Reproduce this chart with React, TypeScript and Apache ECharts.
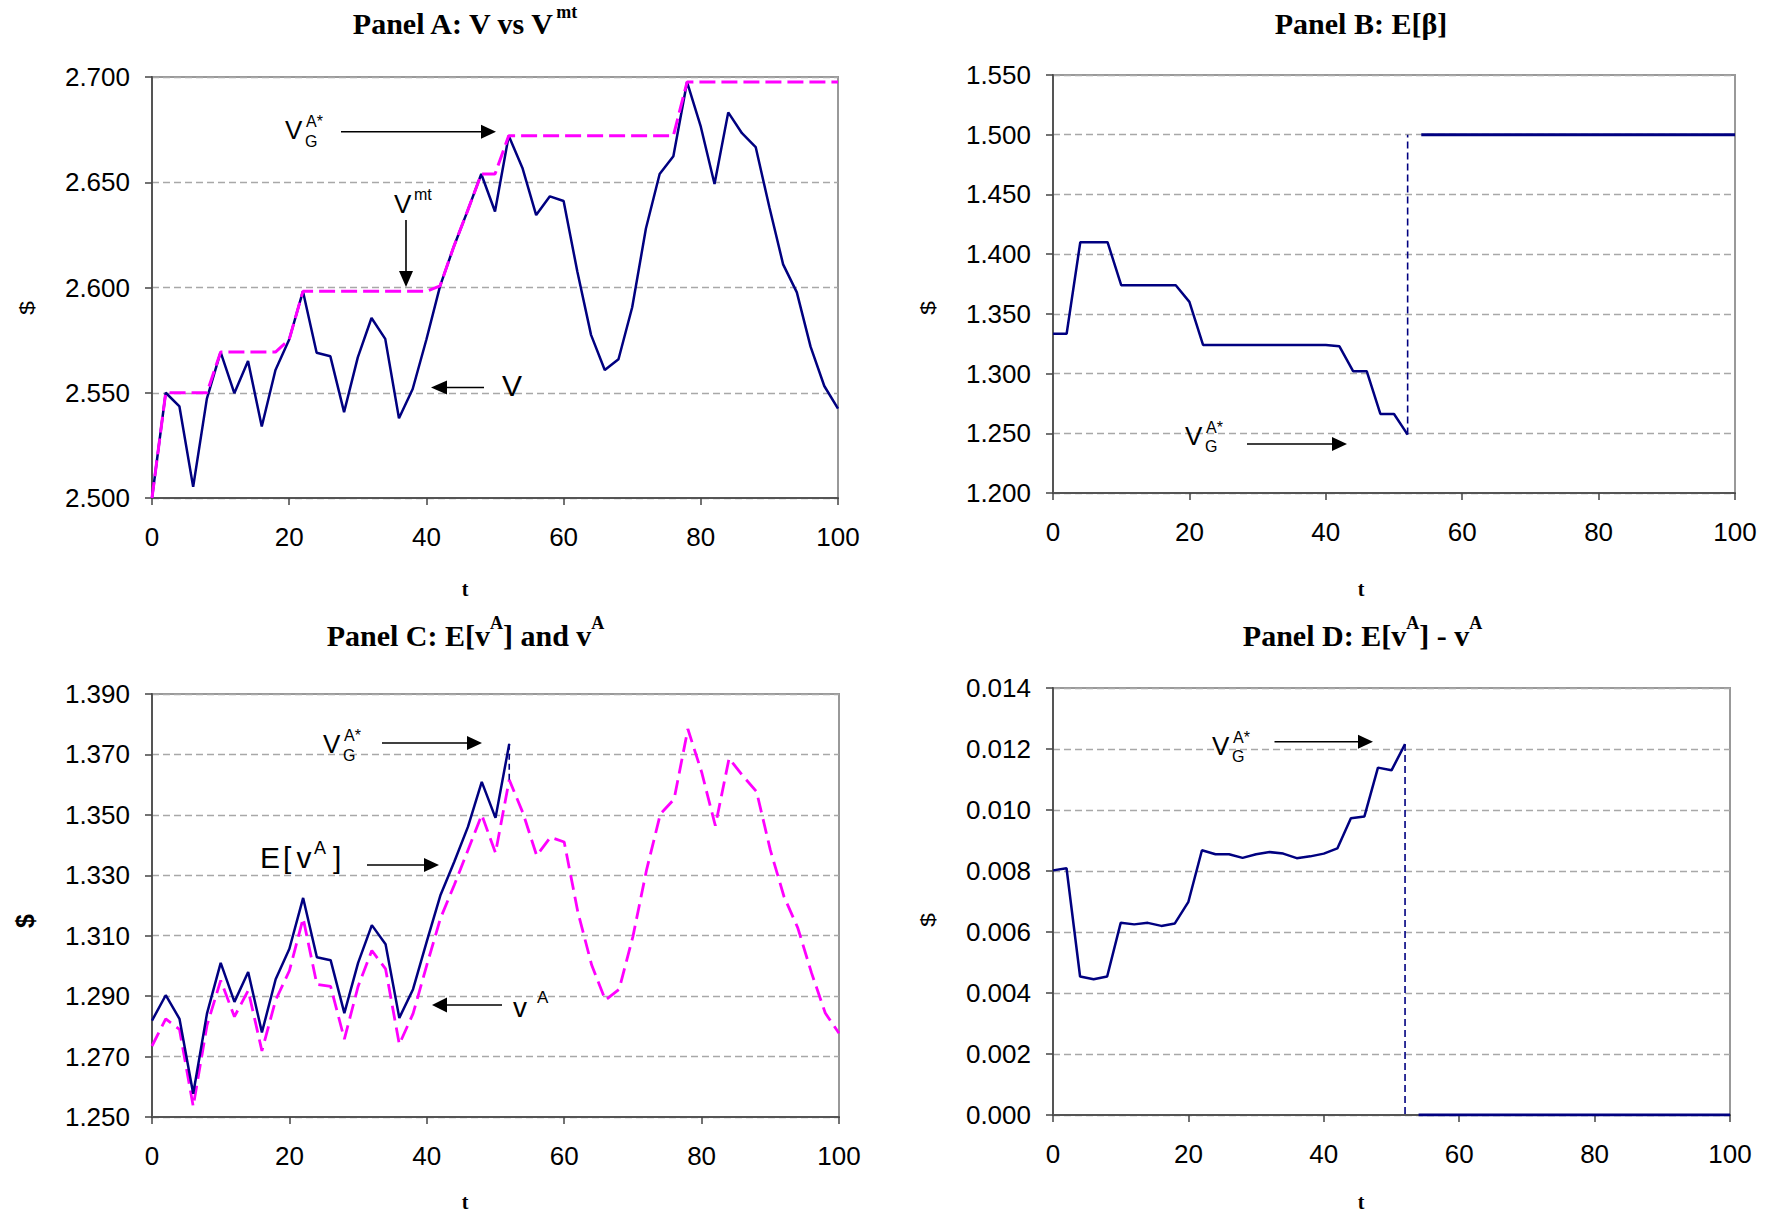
import React, { useEffect, useRef } from "react";
import * as echarts from "echarts";

// ---------- data ----------
const T = [0, 2, 4, 6, 8, 10, 12, 14, 16, 18, 20, 22, 24, 26, 28, 30, 32, 34, 36, 38, 40, 42, 44, 46, 48, 50, 52, 54, 56, 58, 60, 62, 64, 66, 68, 70, 72, 74, 76, 78, 80, 82, 84, 86, 88, 90, 92, 94, 96, 98, 100];
const T_PRE = [0, 2, 4, 6, 8, 10, 12, 14, 16, 18, 20, 22, 24, 26, 28, 30, 32, 34, 36, 38, 40, 42, 44, 46, 48, 50, 52];
const T_POST = [54, 56, 58, 60, 62, 64, 66, 68, 70, 72, 74, 76, 78, 80, 82, 84, 86, 88, 90, 92, 94, 96, 98, 100];
const X_TICKS = { min: 0, max: 100, interval: 20 };

// Panel A
const V_A = [2.500, 2.550, 2.5435, 2.5053, 2.5472, 2.5693, 2.5498, 2.5651, 2.534, 2.5608, 2.5753, 2.5982, 2.569, 2.5673, 2.5408, 2.5668, 2.5855, 2.5756, 2.5379, 2.5518, 2.5753, 2.6008, 2.6195, 2.6364, 2.6539, 2.6361, 2.6721, 2.6568, 2.6344, 2.6433, 2.6411, 2.6076, 2.5775, 2.5608, 2.5659, 2.5906, 2.628, 2.6539, 2.6624, 2.6976, 2.6764, 2.6492, 2.6832, 2.6733, 2.6667, 2.6381, 2.611, 2.5977, 2.5719, 2.5532, 2.5425];
const V_MT = [2.500, 2.550, 2.550, 2.550, 2.550, 2.5693, 2.5693, 2.5693, 2.5693, 2.5693, 2.5753, 2.5982, 2.5982, 2.5982, 2.5982, 2.5982, 2.5982, 2.5982, 2.5982, 2.5982, 2.5982, 2.6008, 2.6195, 2.6364, 2.6539, 2.6539, 2.6721, 2.6721, 2.6721, 2.6721, 2.6721, 2.6721, 2.6721, 2.6721, 2.6721, 2.6721, 2.6721, 2.6721, 2.6721, 2.6976, 2.6976, 2.6976, 2.6976, 2.6976, 2.6976, 2.6976, 2.6976, 2.6976, 2.6976, 2.6976, 2.6976];
const A_Y = { min: 2.5, max: 2.7, interval: 0.05 };

// Panel B
const BETA_PRE = [1.3333, 1.3333, 1.410, 1.410, 1.410, 1.374, 1.374, 1.374, 1.374, 1.374, 1.360, 1.324, 1.324, 1.324, 1.324, 1.324, 1.324, 1.324, 1.324, 1.324, 1.324, 1.3228, 1.302, 1.302, 1.2662, 1.2662, 1.2489];
const BETA_POST = [1.5, 1.5, 1.5, 1.5, 1.5, 1.5, 1.5, 1.5, 1.5, 1.5, 1.5, 1.5, 1.5, 1.5, 1.5, 1.5, 1.5, 1.5, 1.5, 1.5, 1.5, 1.5, 1.5, 1.5];
const BETA_JUMP = [[52, 1.2489], [52, 1.5]];
const B_Y = { min: 1.2, max: 1.55, interval: 0.05 };

// Panel C
const E_VA = [1.2819, 1.2903, 1.2825, 1.2577, 1.2842, 1.3010, 1.2881, 1.2980, 1.2780, 1.2956, 1.3057, 1.3225, 1.3029, 1.3019, 1.2844, 1.3010, 1.3135, 1.3072, 1.2828, 1.2923, 1.3081, 1.3235, 1.3345, 1.3461, 1.3609, 1.3490, 1.3735];
const VA = [1.2735, 1.2825, 1.2790, 1.2535, 1.2803, 1.2952, 1.2832, 1.2919, 1.2719, 1.2887, 1.2984, 1.3158, 1.2939, 1.2932, 1.2758, 1.2932, 1.3051, 1.2990, 1.2741, 1.2842, 1.3003, 1.3158, 1.3268, 1.3384, 1.3500, 1.3374, 1.3616, 1.3506, 1.3365, 1.3426, 1.3410, 1.3177, 1.3003, 1.2887, 1.2923, 1.3097, 1.3319, 1.3503, 1.3552, 1.3784, 1.3642, 1.3464, 1.3687, 1.3629, 1.3577, 1.3384, 1.3229, 1.3126, 1.2977, 1.2844, 1.2777];
const C_JUMP = [[52, 1.3735], [52, 1.3616]];
const C_Y = { min: 1.25, max: 1.39, interval: 0.02 };

// Panel D
const DIFF_PRE = [0.00802, 0.00809, 0.00454, 0.00445, 0.00454, 0.0063, 0.00625, 0.0063, 0.0062, 0.00628, 0.00699, 0.00868, 0.00855, 0.00855, 0.00843, 0.00855, 0.00862, 0.00857, 0.00842, 0.00848, 0.00857, 0.00874, 0.00973, 0.00979, 0.01139, 0.0113, 0.01216];
const DIFF_POST = [0, 0, 0, 0, 0, 0, 0, 0, 0, 0, 0, 0, 0, 0, 0, 0, 0, 0, 0, 0, 0, 0, 0, 0];
const D_JUMP = [[52, 0.01216], [52, 0]];
const D_Y = { min: 0, max: 0.014, interval: 0.002 };

// ---------- styling ----------
const NAVY = "#000080";
const MAG = "#FF00FF";
const SANS = "'Liberation Sans', Arial, sans-serif";
const SERIF = "'Liberation Serif', 'Times New Roman', serif";

const GRIDS = [
  { left: 152, top: 77, width: 686, height: 421 },
  { left: 1053, top: 75, width: 682, height: 418 },
  { left: 152, top: 694, width: 687, height: 423 },
  { left: 1053, top: 688, width: 677, height: 427 },
];

function zip(xs: number[], ys: number[]) {
  return xs.map((x, i) => [x, ys[i]]);
}

function txt(text: string, x: number, y: number, size: number, opts: any = {}) {
  return {
    type: "text",
    x,
    y,
    z: 100,
    rotation: opts.rotation || 0,
    scaleX: opts.scaleX || 1,
    style: {
      text,
      font: `${opts.weight || "normal"} ${size}px ${opts.family || SANS}`,
      fill: "#000",
      align: opts.align || "left",
      verticalAlign: "middle",
    },
  };
}

function arrow(x1: number, y1: number, x2: number, y2: number, head = 15, half = 7) {
  const dx = x2 - x1, dy = y2 - y1;
  const len = Math.sqrt(dx * dx + dy * dy);
  const ux = dx / len, uy = dy / len;
  const bx = x2 - ux * head, by = y2 - uy * head;
  const px = -uy, py = ux;
  return [
    { type: "line", z: 100, shape: { x1, y1, x2: bx + ux, y2: by + uy }, style: { stroke: "#000", lineWidth: 1.6 } },
    {
      type: "polygon",
      z: 100,
      shape: { points: [[x2, y2], [bx + px * half, by + py * half], [bx - px * half, by - py * half]] },
      style: { fill: "#000" },
    },
  ];
}

function vgLabel(x: number, y: number) {
  // V_G^{A*}, x = left of V, y = center of V
  return [
    txt("V", x, y, 26),
    txt("A*", x + 21, y - 8.5, 16),
    txt("G", x + 20, y + 11, 16),
  ];
}

function pieceLine(pieces: { text: string; size: number; dy: number }[], cx: number, cy: number, family: string, weight: string) {
  const ctx = document.createElement("canvas").getContext("2d")!;
  const widths = pieces.map((p) => {
    ctx.font = `${weight} ${p.size}px ${family}`;
    return ctx.measureText(p.text).width;
  });
  const total = widths.reduce((a, b) => a + b, 0);
  let x = cx - total / 2;
  return pieces.map((p, i) => {
    const el = txt(p.text, x, cy + p.dy, p.size, { family, weight });
    x += widths[i];
    return el;
  });
}

function buildOption() {
  const yDefs = [A_Y, B_Y, C_Y, D_Y];
  const grid = GRIDS.map((g) => ({ ...g, show: true, borderColor: "#999", borderWidth: 2, backgroundColor: "transparent" }));
  const xAxis = GRIDS.map((_, i) => ({
    type: "value",
    gridIndex: i,
    min: X_TICKS.min,
    max: X_TICKS.max,
    interval: X_TICKS.interval,
    axisLine: { show: true, onZero: false, lineStyle: { color: "#555", width: 2 } },
    axisTick: { show: true, length: 7, lineStyle: { color: "#444", width: 1.5 } },
    axisLabel: { margin: 26, fontSize: 26, fontFamily: SANS, color: "#000" },
    splitLine: { show: false },
  }));
  const yAxis = yDefs.map((d, i) => ({
    type: "value",
    gridIndex: i,
    min: d.min,
    max: d.max,
    interval: d.interval,
    axisLine: { show: true, onZero: false, lineStyle: { color: "#555", width: 2 } },
    axisTick: { show: true, length: 7, lineStyle: { color: "#444", width: 1.5 } },
    axisLabel: { margin: 22, fontSize: 26, fontFamily: SANS, color: "#000", formatter: (v: number) => v.toFixed(3) },
    splitLine: { show: true, lineStyle: { color: "#a8a8a8", width: 1.3, type: [7, 4] } },
  }));

  const line = (idx: number, data: any[], color: string, width: number, dash: any, z: number) => ({
    type: "line",
    xAxisIndex: idx,
    yAxisIndex: idx,
    data,
    symbol: "none",
    silent: true,
    z,
    lineStyle: { color, width, type: dash },
  });

  const series = [
    line(0, zip(T, V_A), NAVY, 2.5, "solid", 3),
    line(0, zip(T, V_MT), MAG, 3, [16, 6], 4),
    line(1, zip(T_PRE, BETA_PRE), NAVY, 2.5, "solid", 3),
    line(1, zip(T_POST, BETA_POST), NAVY, 3, "solid", 3),
    line(1, BETA_JUMP, NAVY, 1.6, [7, 4], 3),
    line(2, zip(T, VA), MAG, 2.8, [15, 7], 3),
    line(2, zip(T_PRE, E_VA), NAVY, 2.5, "solid", 4),
    line(2, C_JUMP, NAVY, 1.6, [6, 4], 4),
    line(3, zip(T_PRE, DIFF_PRE), NAVY, 2.5, "solid", 3),
    line(3, zip(T_POST, DIFF_POST), NAVY, 3, "solid", 3),
    line(3, D_JUMP, NAVY, 1.6, [7, 4], 3),
  ];

  const g: any[] = [];
  // titles
  g.push(...pieceLine([{ text: "Panel A: V vs V", size: 30, dy: 0 }, { text: "mt", size: 18, dy: -11.5 }], 465, 23, SERIF, "bold"));
  g.push(...pieceLine([{ text: "Panel B: E[β]", size: 30, dy: 0 }], 1361, 23, SERIF, "bold"));
  g.push(...pieceLine([
    { text: "Panel C: E[v", size: 30, dy: 0 },
    { text: "A", size: 18, dy: -12 },
    { text: "] and v", size: 30, dy: 0 },
    { text: "A", size: 18, dy: -12 },
  ], 465.5, 635, SERIF, "bold"));
  g.push(...pieceLine([
    { text: "Panel D: E[v", size: 30, dy: 0 },
    { text: "A", size: 18, dy: -12 },
    { text: "] - v", size: 30, dy: 0 },
    { text: "A", size: 18, dy: -12 },
  ], 1362.5, 635, SERIF, "bold"));

  // axis names
  g.push(txt("t", 465, 589, 20, { family: SERIF, weight: "bold", align: "center" }));
  g.push(txt("t", 1361, 589, 20, { family: SERIF, weight: "bold", align: "center" }));
  g.push(txt("t", 465, 1202, 20, { family: SERIF, weight: "bold", align: "center" }));
  g.push(txt("t", 1361, 1202, 20, { family: SERIF, weight: "bold", align: "center" }));
  g.push(txt("$", 27, 308, 21, { align: "center", rotation: Math.PI / 2, scaleX: 1.2 }));
  g.push(txt("$", 928, 308, 21, { align: "center", rotation: Math.PI / 2, scaleX: 1.2 }));
  g.push(txt("$", 25, 921, 25, { align: "center", weight: "bold", rotation: Math.PI / 2 }));
  g.push(txt("$", 928, 920, 21, { align: "center", rotation: Math.PI / 2, scaleX: 1.2 }));

  // Panel A annotations
  g.push(...vgLabel(285, 130));
  g.push(...arrow(341, 131.7, 496, 131.7));
  g.push(txt("V", 394, 204, 26));
  g.push(txt("mt", 414, 194.5, 16));
  g.push(...arrow(406, 220, 406, 287, 16, 7));
  g.push(...arrow(484, 387.5, 431, 387.5, 16, 7));
  g.push(txt("V", 502, 385.6, 30));

  // Panel B
  g.push(...vgLabel(1185, 435.5));
  g.push(...arrow(1247, 444, 1347, 444));

  // Panel C
  g.push(...vgLabel(323, 744));
  g.push(...arrow(382, 743, 482, 743));
  g.push(txt("E", 260, 857.6, 30));
  g.push(txt("[", 283, 857.6, 30));
  g.push(txt("v", 296.5, 857.6, 30));
  g.push(txt("A", 314, 848, 18));
  g.push(txt("]", 333, 857.6, 30));
  g.push(...arrow(367, 865, 439, 865));
  g.push(...arrow(502, 1005, 432, 1005, 15, 7.5));
  g.push(txt("v", 513, 1007.3, 28));
  g.push(txt("A", 537, 997.5, 17));

  // Panel D
  g.push(...vgLabel(1212, 745.5));
  g.push(...arrow(1274.5, 741.7, 1373, 741.7));

  return {
    animation: false,
    backgroundColor: "#fff",
    grid,
    xAxis,
    yAxis,
    series,
    graphic: { elements: g },
  };
}

export default function App() {
  const ref = useRef<HTMLDivElement>(null);
  useEffect(() => {
    document.body.style.margin = "0";
    const chart = echarts.init(ref.current!, null, { renderer: "svg" });
    chart.setOption(buildOption() as any);
    return () => chart.dispose();
  }, []);
  return (
    <div
      ref={ref}
      style={{ position: "absolute", left: 0, top: 0, width: 1774, height: 1212, background: "#fff" }}
    />
  );
}
